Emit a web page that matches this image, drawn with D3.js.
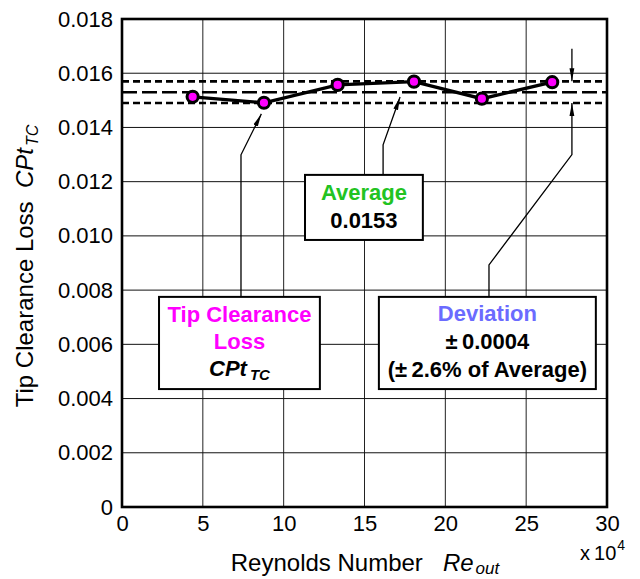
<!DOCTYPE html>
<html><head><meta charset="utf-8">
<script src="https://cdn.jsdelivr.net/npm/d3@7"></script>
<style>body{margin:0;background:#fff}svg{display:block;font-family:"Liberation Sans",Arial,sans-serif}</style>
</head><body><svg id="c" width="640" height="579"></svg>
<script>
// ---- data ----
const reValues = [4.37, 8.78, 13.34, 18.06, 22.26, 26.61];          // x 10^4
const cptValues = [0.01513, 0.01491, 0.01557, 0.01569, 0.01506, 0.01567];
const averageValue = 0.0153;
const deviationValue = 0.0004;
const xTicks = [0, 5, 10, 15, 20, 25, 30];
const yTicks = [0, 0.002, 0.004, 0.006, 0.008, 0.010, 0.012, 0.014, 0.016, 0.018];
const yTickLabels = ["0", "0.002", "0.004", "0.006", "0.008", "0.010", "0.012", "0.014", "0.016", "0.018"];

const svg = d3.select("#c");
const x = d3.scaleLinear().domain([0, 30]).range([122, 607]);
const y = d3.scaleLinear().domain([0, 0.018]).range([507, 19]);

svg.append("defs").append("marker").attr("id", "ah")
  .attr("viewBox", "0 0 13 6").attr("refX", 13).attr("refY", 3)
  .attr("markerWidth", 13).attr("markerHeight", 6).attr("markerUnits", "userSpaceOnUse")
  .attr("orient", "auto")
  .append("path").attr("d", "M0,0.6 L13,3 L0,5.4 Z").attr("fill", "#000");

// grid
const g = svg.append("g");
g.selectAll(".gx").data(xTicks.slice(1, -1)).join("line")
  .attr("x1", d => x(d)).attr("x2", d => x(d)).attr("y1", y(0)).attr("y2", y(0.018))
  .attr("stroke", "#222").attr("stroke-width", 1);
g.selectAll(".gy").data(yTicks.slice(1, -1)).join("line")
  .attr("y1", d => y(d)).attr("y2", d => y(d)).attr("x1", x(0)).attr("x2", x(30))
  .attr("stroke", "#111").attr("stroke-width", 1);

// axes
const xAxis = d3.axisBottom(x).tickValues(xTicks).tickSize(0).tickPadding(8).tickFormat(d3.format("d"));
const yAxis = d3.axisLeft(y).tickValues(yTicks).tickSize(0).tickPadding(9).tickFormat((d, i) => yTickLabels[i]);
const xa = svg.append("g").attr("transform", `translate(0,${y(0)})`).call(xAxis);
const ya = svg.append("g").attr("transform", `translate(${x(0)},0)`).call(yAxis);
[xa, ya].forEach(a => {
  a.select(".domain").remove();
  a.selectAll("text").attr("font-size", 22).attr("fill", "#000").attr("font-family", "Liberation Sans, Arial, sans-serif");
});

// average & deviation lines
svg.append("line").attr("x1", x(0)).attr("x2", x(30)).attr("y1", y(averageValue)).attr("y2", y(averageValue))
  .attr("stroke", "#000").attr("stroke-width", 2.6).attr("stroke-dasharray", "15,5");
[averageValue + deviationValue, averageValue - deviationValue].forEach(v => {
  svg.append("line").attr("x1", x(0)).attr("x2", x(30)).attr("y1", y(v)).attr("y2", y(v))
    .attr("stroke", "#000").attr("stroke-width", 2.6).attr("stroke-dasharray", "7,4");
});

// data line & markers
const pts = reValues.map((r, i) => [r, cptValues[i]]);
svg.append("path").datum(pts).attr("fill", "none").attr("stroke", "#000").attr("stroke-width", 3.3)
  .attr("d", d3.line().x(d => x(d[0])).y(d => y(d[1])));
svg.selectAll(".pt").data(pts).join("circle")
  .attr("cx", d => x(d[0])).attr("cy", d => y(d[1])).attr("r", 5.6)
  .attr("fill", "#ff00ff").attr("stroke", "#000").attr("stroke-width", 3);

// frame
svg.append("rect").attr("x", x(0)).attr("y", y(0.018)).attr("width", x(30) - x(0)).attr("height", y(0) - y(0.018))
  .attr("fill", "none").attr("stroke", "#000").attr("stroke-width", 2.6);

// connectors (data coordinates)
const conn = (p) => svg.append("path").attr("d", d3.line().x(d => x(d[0])).y(d => y(d[1]))(p))
  .attr("fill", "none").attr("stroke", "#000").attr("stroke-width", 1.3).attr("marker-end", "url(#ah)");
conn([[7.36, 0.00775], [7.36, 0.01299], [8.62, 0.01450]]);
conn([[16.15, 0.01225], [16.15, 0.01336], [17.2, 0.01512]]);
conn([[27.83, 0.0169], [27.83, averageValue + deviationValue]]);
conn([[22.7, 0.00775], [22.7, 0.00893], [27.83, 0.0130], [27.83, averageValue - deviationValue]]);

// boxes
function box(x0, x1, y0, y1) {
  svg.append("rect").attr("x", x(x0)).attr("y", y(y0)).attr("width", x(x1) - x(x0)).attr("height", y(y1) - y(y0))
    .attr("fill", "#fff").attr("stroke", "#000").attr("stroke-width", 2);
}
box(2.29, 12.24, 0.00775, 0.00435);
box(11.32, 18.61, 0.01225, 0.00985);
box(15.89, 29.31, 0.00775, 0.00435);

function txt(cx, by, s, color, size = 22) {
  return svg.append("text").attr("x", cx).attr("y", by).attr("text-anchor", "middle")
    .attr("font-weight", "bold").attr("font-size", size).attr("fill", color).text(s);
}
const tipCx = (x(2.29) + x(12.24)) / 2;
txt(tipCx, 322, "Tip Clearance", "#ff00ff");
txt(tipCx, 349, "Loss", "#ff00ff");
const cp = txt(tipCx, 376, "", "#000");
cp.append("tspan").attr("font-style", "italic").text("CPt");
cp.append("tspan").attr("font-style", "italic").attr("font-size", 15).attr("dx", 3).attr("dy", 4).text("TC");

const avCx = (x(11.32) + x(18.61)) / 2;
txt(avCx, 200, "Average", "#22c322");
txt(avCx, 228, "0.0153", "#000");

const dvCx = (x(15.89) + x(29.31)) / 2;
txt(dvCx, 321, "Deviation", "#6b6bff");
txt(dvCx, 349, "\u00b1\u20090.0004", "#000");
txt(dvCx, 377, "(\u00b1\u20092.6% of Average)", "#000");

// axis titles
const yt = svg.append("text").attr("transform", "translate(33,266) rotate(-90)").attr("text-anchor", "middle")
  .attr("font-size", 24).attr("fill", "#000");
yt.append("tspan").text("Tip Clearance Loss\u00a0\u00a0");
yt.append("tspan").attr("font-style", "italic").text("CPt");
yt.append("tspan").attr("font-style", "italic").attr("font-size", 16).attr("dx", 2).attr("dy", 5).text("TC");

const xt = svg.append("text").attr("x", 365).attr("y", 571).attr("text-anchor", "middle")
  .attr("font-size", 24).attr("fill", "#000");
xt.append("tspan").text("Reynolds Number\u00a0\u00a0\u00a0");
xt.append("tspan").attr("font-style", "italic").text("Re");
xt.append("tspan").attr("font-style", "italic").attr("font-size", 17).attr("dx", 2).attr("dy", 3).text("out");

const mul = svg.append("text").attr("x", 580).attr("y", 560).attr("font-size", 20).attr("fill", "#000");
mul.append("tspan").text("x\u200910");
mul.append("tspan").attr("font-size", 14).attr("dx", 1).attr("dy", -10).text("4");
</script></body></html>
